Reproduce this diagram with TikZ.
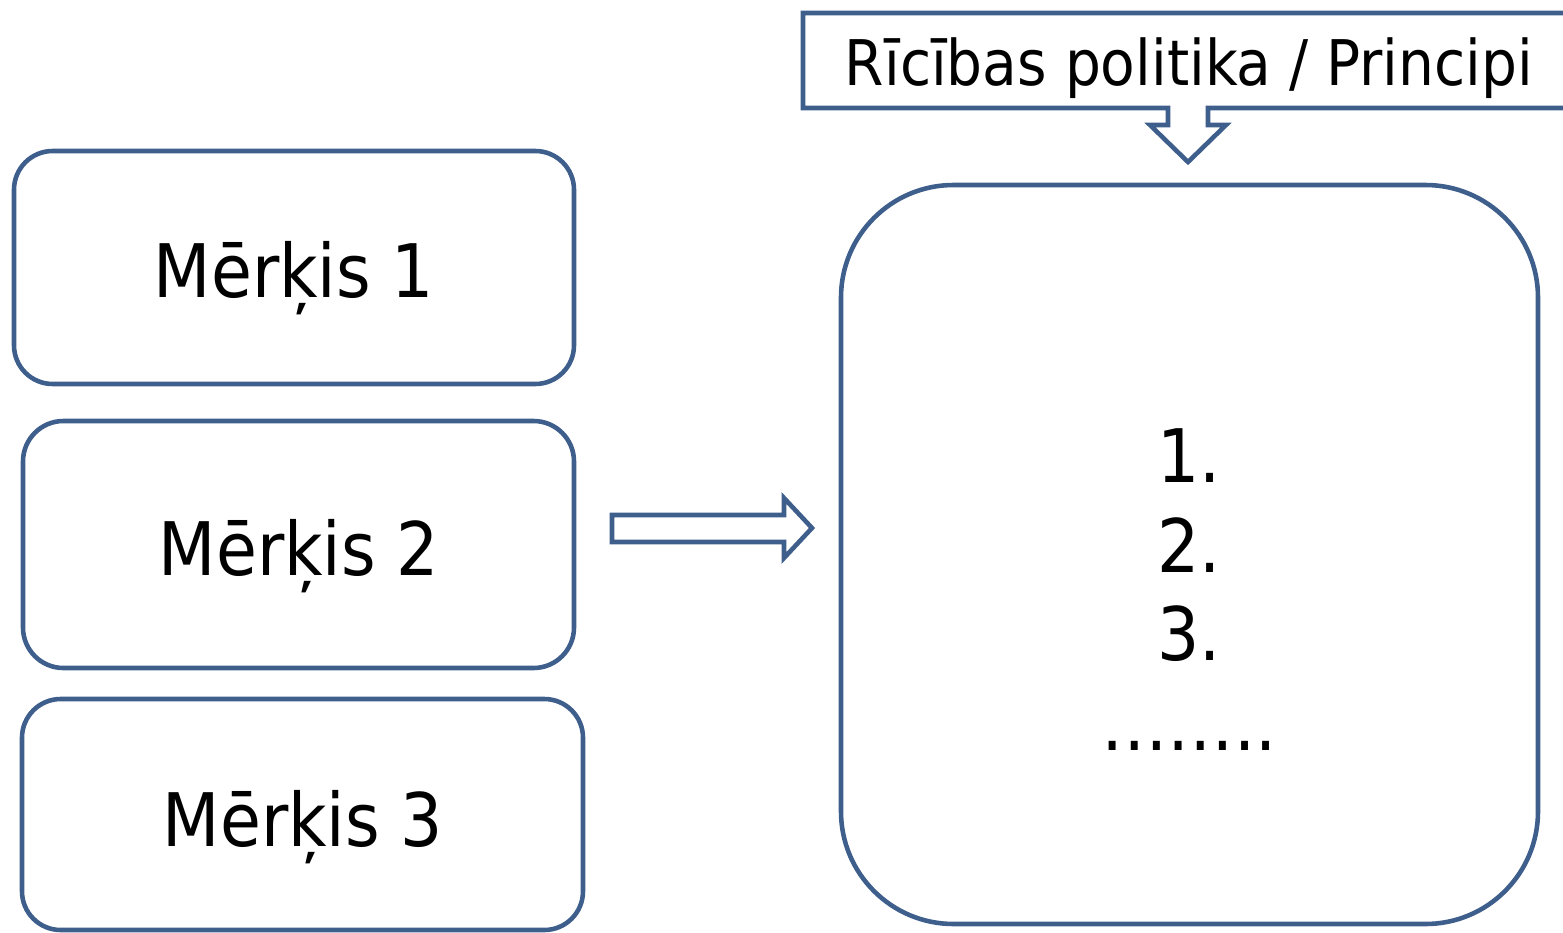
\documentclass[tikz,border=0pt]{standalone}
\usepackage{fontspec}
\setmainfont{DejaVu Sans Condensed}
\definecolor{edge}{RGB}{62,94,140}
\begin{document}
\begin{tikzpicture}[x=0.01cm,y=-0.01cm,
  box/.style={draw=edge,line width=1.3pt,rounded corners=#1,fill=white,inner sep=0pt},
  big/.style={font=\fontsize{21}{25}\selectfont,anchor=base,inner sep=0pt},
  ttl/.style={font=\fontsize{17.9}{22}\selectfont,anchor=base,inner sep=0pt},
  outline/.style={draw=edge,line width=1.3pt,fill=white,line join=miter}]
\useasboundingbox (0,0) rectangle (1563,933);
% goal boxes
\node[box=11pt,minimum width=560*0.01cm,minimum height=233*0.01cm] (b1) at (294,267.5) {};
\node[box=11.5pt,minimum width=551*0.01cm,minimum height=247*0.01cm] (b2) at (298.5,544.5) {};
\node[box=11pt,minimum width=561*0.01cm,minimum height=231*0.01cm] (b3) at (302.5,814.5) {};
\node[big] (t1) at (294,297) {Mērķis 1};
\node[big] (t2) at (299,575) {Mērķis 2};
\node[big] (t3) at (303,846) {Mērķis 3};
% big box
\node[box=32pt,minimum width=697*0.01cm,minimum height=739*0.01cm] (bb) at (1189.5,554.5) {};
\node[big] (n1) at (1189,482) {1.};
\node[big] (n2) at (1189,572) {2.};
\node[big] (n3) at (1189,660) {3.};
\node[big] (n4) at (1189,750) {……..};
% title callout
\path[outline] (1575,13) -- (803,13) -- (803,108) -- (1168,108) -- (1168,125) -- (1150,125)
  -- (1188,162) -- (1226,125) -- (1208,125) -- (1208,108) -- (1575,108);
\node[ttl] (title) at (1189,85) {Rīcības politika / Principi};
% right arrow
\path[outline] (612,515) -- (784,515) -- (784,498) -- (812,528) -- (784,558) -- (784,542) -- (612,542) -- cycle;
\end{tikzpicture}
\end{document}
